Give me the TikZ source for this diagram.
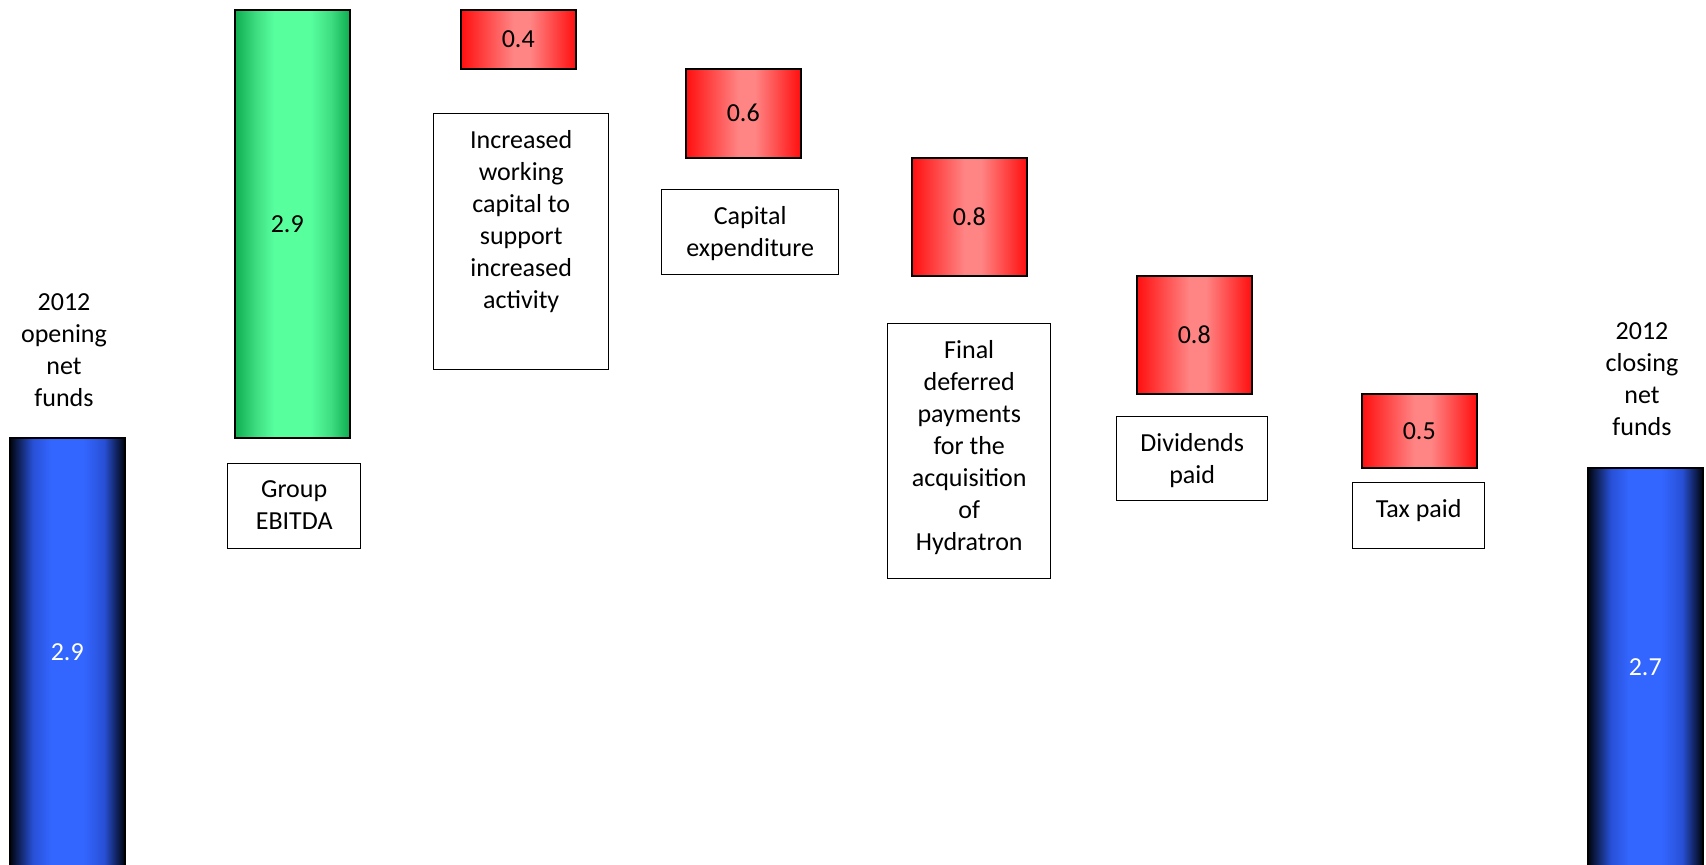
\documentclass[tikz,border=0pt]{standalone}
\usepackage{fontspec}
\setmainfont{Carlito}
\definecolor{redE}{HTML}{FF0F0F}
\definecolor{redM}{HTML}{FF8585}
\definecolor{greenE}{HTML}{0EAD4F}
\definecolor{greenA}{HTML}{3DDC80}
\definecolor{greenM}{HTML}{57FF9D}
\definecolor{blueE}{HTML}{00040C}
\definecolor{blueA}{HTML}{2850D6}
\definecolor{blueM}{HTML}{3366FF}
\pgfdeclarehorizontalshading{blueshade}{100bp}{color(0bp)=(blueE); color(25bp)=(blueE); color(35bp)=(blueA); color(43bp)=(blueM); color(57bp)=(blueM); color(66bp)=(blueA); color(75bp)=(blueE); color(100bp)=(blueE)}
\pgfdeclarehorizontalshading{greenshade}{100bp}{color(0bp)=(greenE); color(25bp)=(greenE); color(34bp)=(greenA); color(42bp)=(greenM); color(58bp)=(greenM); color(67bp)=(greenA); color(75bp)=(greenE); color(100bp)=(greenE)}
\pgfdeclarehorizontalshading{redshade}{100bp}{color(0bp)=(redE); color(25bp)=(redE); color(48bp)=(redM); color(55bp)=(redM); color(75bp)=(redE); color(100bp)=(redE)}
\begin{document}
\begin{tikzpicture}[x=1pt,y=-1pt,
  every node/.style={font=\fontsize{26}{32}\selectfont},
  bar/.style={draw=black,line width=1.5pt,inner sep=0pt,anchor=north west,minimum width=115pt,shade},
  redbar/.style={bar,shading=redshade},
  greenbar/.style={bar,shading=greenshade},
  bluebar/.style={bar,shading=blueshade,text=white},
  lbox/.style={draw=black,line width=1.4pt,anchor=north west,inner sep=0pt},
  ltext/.style={anchor=north,align=center,inner sep=0pt}
]
\useasboundingbox[fill=white] (0,0) rectangle (1706,865);
% bars
\node[bluebar,minimum height=429pt] (open) at (9,437) {2.9};
\node[greenbar,minimum height=428pt] (ebitda) at (234,9) {\hspace*{-10pt}2.9};
\node[redbar,minimum height=59pt] (wc) at (460,9) {0.4};
\node[redbar,minimum height=89pt] (capex) at (685,68) {0.6};
\node[redbar,minimum height=118pt] (hyd) at (911,157) {0.8};
\node[redbar,minimum height=118pt] (div) at (1136,275) {0.8};
\node[redbar,minimum height=74pt] (tax) at (1361,393) {0.5};
\node[bluebar,minimum height=399pt] (close) at (1587,467) {2.7};
% label boxes
\node[lbox,minimum width=133pt,minimum height=85pt] (bEbitda) at (227,463) {};
\node[lbox,minimum width=175pt,minimum height=256pt] (bWc) at (433,113) {};
\node[lbox,minimum width=177pt,minimum height=85pt] (bCapex) at (661,189) {};
\node[lbox,minimum width=163pt,minimum height=255pt] (bHyd) at (887,323) {};
\node[lbox,minimum width=151pt,minimum height=84pt] (bDiv) at (1116,416) {};
\node[lbox,minimum width=132pt,minimum height=66pt] (bTax) at (1352,482) {};
% label texts
\node[ltext] (tEbitda) at ([yshift=-17.5pt]bEbitda.north) {Group\\EBITDA};
\node[ltext] (tWc) at ([yshift=-17.5pt]bWc.north) {Increased\\working\\capital to\\support\\increased\\activity};
\node[ltext] (tCapex) at ([yshift=-17.5pt]bCapex.north) {Capital\\expenditure};
\node[ltext] (tHyd) at ([yshift=-17.5pt]bHyd.north) {Final\\deferred\\payments\\for the\\acquisition\\of\\Hydratron};
\node[ltext] (tDiv) at ([yshift=-17.5pt]bDiv.north) {Dividends\\paid};
\node[ltext] (tTax) at ([yshift=-17.5pt]bTax.north) {Tax paid};
% side labels
\node[ltext] (lOpen) at (64,293) {2012\\opening\\net\\funds};
\node[ltext] (lClose) at (1642,322) {2012\\closing\\net\\funds};
\end{tikzpicture}
\end{document}
